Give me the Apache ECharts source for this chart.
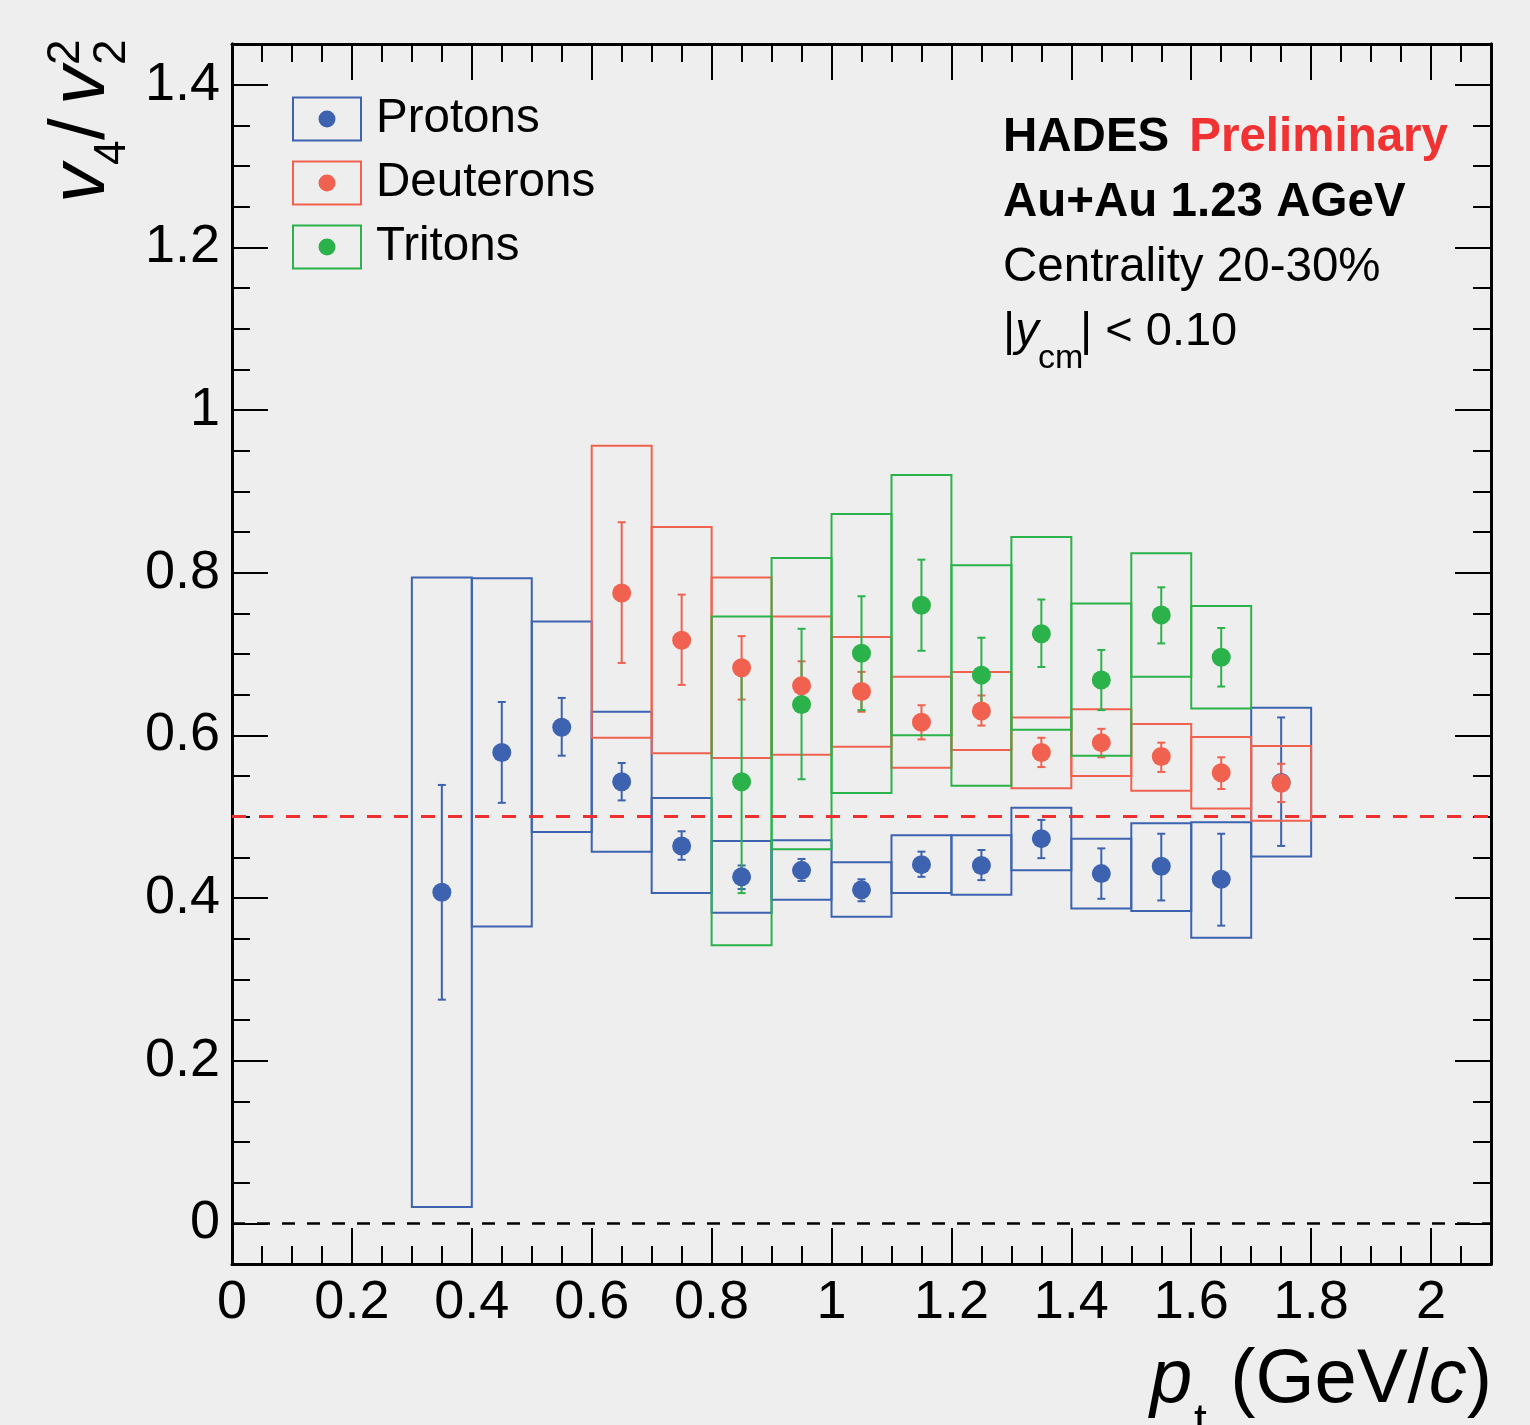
<!DOCTYPE html>
<html lang="en">
<head>
<meta charset="UTF-8">
<title>v4/v2^2 vs pt</title>
<script src="https://cdn.jsdelivr.net/npm/echarts@6/dist/echarts.min.js"></script>
<style>html,body{margin:0;padding:0;background:#eeeeee;}</style>
</head>
<body>
<div id="main" style="width:1530px;height:1425px;"></div>
<script>
// bin half width in pt (GeV/c)
var binHalf = 0.05;

// y axis labelled ticks
var yTickValues = [0, 0.2, 0.4, 0.6, 0.8, 1, 1.2, 1.4];

// protons
var protonPt     = [0.35, 0.45, 0.55, 0.65, 0.75, 0.85, 0.95, 1.05, 1.15, 1.25, 1.35, 1.45, 1.55, 1.65, 1.75];
var protonVal    = [0.407, 0.579, 0.610, 0.543, 0.464, 0.426, 0.434, 0.410, 0.441, 0.440, 0.473, 0.430, 0.439, 0.423, 0.542];
var protonStatLo = [0.275, 0.517, 0.575, 0.520, 0.447, 0.411, 0.421, 0.396, 0.426, 0.422, 0.449, 0.399, 0.397, 0.366, 0.464];
var protonStatHi = [0.539, 0.641, 0.646, 0.566, 0.482, 0.440, 0.448, 0.423, 0.457, 0.459, 0.496, 0.461, 0.479, 0.479, 0.622];
var protonSysLo  = [0.020, 0.365, 0.481, 0.457, 0.406, 0.382, 0.398, 0.377, 0.406, 0.404, 0.434, 0.387, 0.384, 0.351, 0.451];
var protonSysHi  = [0.794, 0.793, 0.740, 0.629, 0.523, 0.470, 0.471, 0.444, 0.477, 0.477, 0.511, 0.473, 0.492, 0.493, 0.634];

// deuterons
var deutPt     = [0.65, 0.75, 0.85, 0.95, 1.05, 1.15, 1.25, 1.35, 1.45, 1.55, 1.65, 1.75];
var deutVal    = [0.775, 0.717, 0.683, 0.661, 0.654, 0.616, 0.630, 0.579, 0.591, 0.574, 0.554, 0.541];
var deutStatLo = [0.689, 0.662, 0.644, 0.631, 0.629, 0.595, 0.612, 0.561, 0.573, 0.555, 0.534, 0.518];
var deutStatHi = [0.862, 0.773, 0.722, 0.691, 0.678, 0.637, 0.649, 0.597, 0.608, 0.591, 0.573, 0.565];
var deutSysLo  = [0.597, 0.578, 0.572, 0.576, 0.586, 0.560, 0.582, 0.535, 0.550, 0.532, 0.510, 0.495];
var deutSysHi  = [0.956, 0.856, 0.794, 0.746, 0.721, 0.672, 0.678, 0.622, 0.632, 0.614, 0.598, 0.587];

// tritons
var tritPt     = [0.85, 0.95, 1.05, 1.15, 1.25, 1.35, 1.45, 1.55, 1.65];
var tritVal    = [0.543, 0.638, 0.701, 0.760, 0.674, 0.725, 0.668, 0.748, 0.696];
var tritStatLo = [0.406, 0.546, 0.631, 0.704, 0.627, 0.684, 0.631, 0.713, 0.660];
var tritStatHi = [0.682, 0.731, 0.771, 0.816, 0.720, 0.767, 0.705, 0.782, 0.732];
var tritSysLo  = [0.342, 0.460, 0.529, 0.600, 0.538, 0.607, 0.575, 0.672, 0.633];
var tritSysHi  = [0.746, 0.818, 0.872, 0.920, 0.809, 0.844, 0.762, 0.824, 0.759];

var FONT = '"Liberation Sans", Arial, Helvetica, sans-serif';
var BLUE = '#3d63b0', RED = '#f0624f', GREEN = '#2bb24a';

function zip3(x, a, b) {
    var out = [];
    for (var i = 0; i < x.length; i++) out.push([x[i], a[i], b[i]]);
    return out;
}
function zip2(x, a) {
    var out = [];
    for (var i = 0; i < x.length; i++) out.push([x[i], a[i]]);
    return out;
}

// systematic box
function boxItem(color) {
    return function (params, api) {
        var p0 = api.coord([api.value(0) - binHalf, api.value(2)]);
        var p1 = api.coord([api.value(0) + binHalf, api.value(1)]);
        return {
            type: 'rect',
            shape: {x: p0[0], y: p0[1], width: p1[0] - p0[0], height: p1[1] - p0[1]},
            style: {fill: 'none', stroke: color, lineWidth: 2}
        };
    };
}
// statistical error bar with caps
function errItem(color) {
    return function (params, api) {
        var t = api.coord([api.value(0), api.value(2)]);
        var b = api.coord([api.value(0), api.value(1)]);
        var c = 4;
        var st = {stroke: color, lineWidth: 2};
        return {
            type: 'group',
            children: [
                {type: 'line', shape: {x1: t[0], y1: t[1], x2: b[0], y2: b[1]}, style: st},
                {type: 'line', shape: {x1: t[0] - c, y1: t[1], x2: t[0] + c, y2: t[1]}, style: st},
                {type: 'line', shape: {x1: b[0] - c, y1: b[1], x2: b[0] + c, y2: b[1]}, style: st}
            ]
        };
    };
}

function species(name, color, pt, val, sLo, sHi, yLo, yHi) {
    return [{
        name: name, type: 'custom', renderItem: boxItem(color),
        itemStyle: {color: color}, encode: {x: 0, y: [1, 2]},
        data: zip3(pt, yLo, yHi), silent: true
    }, {
        name: name, type: 'custom', renderItem: errItem(color),
        itemStyle: {color: color}, encode: {x: 0, y: [1, 2]},
        data: zip3(pt, sLo, sHi), silent: true
    }, {
        name: name, type: 'scatter', symbol: 'circle', symbolSize: 19,
        itemStyle: {color: color, opacity: 1},
        data: zip2(pt, val)
    }];
}

function tickLabel(v) {
    var k = Math.round(v / 0.2);
    return Math.abs(v - k * 0.2) < 1e-6 ? String(+v.toFixed(1)) : '';
}

var axisLine = {show: true, onZero: false, lineStyle: {color: '#000', width: 3}};
var labelStyle = {show: true, formatter: tickLabel, color: '#000', fontFamily: FONT, fontSize: 54, margin: 12};

// x: major every 0.2 with minor ticks every 0.05
function xAxisAt(pos, withLabels) {
    return {
        type: 'value', position: pos, min: 0, max: 2.1, interval: 0.2,
        axisLine: axisLine,
        axisTick: {show: true, inside: true, length: 36, lineStyle: {color: '#000', width: 2}},
        minorTick: {show: true, splitNumber: 4, length: 18, lineStyle: {color: '#000', width: 2}},
        splitLine: {show: false},
        axisLabel: withLabels ? labelStyle : {show: false}
    };
}
// y: short ticks every 0.05 (axis starts at -0.05)
function yMinorAxis(pos) {
    return {
        type: 'value', position: pos, min: -0.05, max: 1.45, interval: 0.05,
        axisLine: axisLine,
        axisTick: {show: true, inside: true, length: 18, lineStyle: {color: '#000', width: 2}},
        splitLine: {show: false},
        axisLabel: {show: false}
    };
}
// y: long ticks (and labels) at the labelled values
function yMajorAxis(pos, withLabels) {
    var lab = {show: false};
    if (withLabels) {
        lab = Object.assign({customValues: yTickValues}, labelStyle);
    }
    return {
        type: 'value', position: pos, min: -0.05, max: 1.45, interval: 0.05,
        axisLine: axisLine,
        axisTick: {show: true, inside: true, length: 36, customValues: yTickValues, lineStyle: {color: '#000', width: 2}},
        splitLine: {show: false},
        axisLabel: lab
    };
}

var legendIcon = 'path://M0,0L70,0L70,45L0,45Z M2,2L2,43L68,43L68,2Z M26.5,22.5a8.5,8.5 0 1,0 17,0a8.5,8.5 0 1,0 -17,0Z';

var series = []
    .concat(species('Protons', BLUE, protonPt, protonVal, protonStatLo, protonStatHi, protonSysLo, protonSysHi))
    .concat(species('Deuterons', RED, deutPt, deutVal, deutStatLo, deutStatHi, deutSysLo, deutSysHi))
    .concat(species('Tritons', GREEN, tritPt, tritVal, tritStatLo, tritStatHi, tritSysLo, tritSysHi));

// reference lines at 0.5 and 0
series[0].markLine = {
    silent: true, symbol: 'none', label: {show: false},
    data: [
        {yAxis: 0.5, lineStyle: {color: '#ee3030', width: 3, type: [14, 13]}},
        {yAxis: 0, lineStyle: {color: '#000', width: 2.5, type: [13, 12]}}
    ]
};

function txt(s, font, x, y) {
    return {type: 'text', x: x, y: y, silent: true,
        style: {text: s, font: font + ' ' + FONT, fill: '#000', verticalAlign: 'middle'}};
}

var chart = echarts.init(document.getElementById('main'));
var option = {
    animation: false,
    backgroundColor: '#eeeeee',
    grid: {left: 232, right: 39, top: 44, bottom: 161, containLabel: false, outerBoundsMode: 'none'},
    xAxis: [xAxisAt('bottom', true), xAxisAt('top', false)],
    yAxis: [yMajorAxis('left', true), yMinorAxis('left'), yMajorAxis('right', false), yMinorAxis('right')],
    legend: {
        left: 292, top: 95, orient: 'vertical', padding: 0,
        itemWidth: 70, itemHeight: 45, itemGap: 16,
        selectedMode: false,
        textStyle: {fontFamily: FONT, fontSize: 47.5, color: '#000', padding: [0, 0, 0, 9]},
        data: [
            {name: 'Protons', icon: legendIcon, itemStyle: {color: BLUE}},
            {name: 'Deuterons', icon: legendIcon, itemStyle: {color: RED}},
            {name: 'Tritons', icon: legendIcon, itemStyle: {color: GREEN}}
        ]
    },
    graphic: [
        // y axis title: v4 / v2^2, reads bottom to top
        {
            type: 'group', x: 109, y: 203, rotation: Math.PI / 2, silent: true,
            children: [
                txt('v', 'italic 78px', 0, -27),
                txt('4', '44px', 38, 4),
                txt('/', '78px', 63, -27),
                txt('v', 'italic 78px', 98, -27),
                txt('2', '46px', 138, 3),
                txt('2', '46px', 138, -43)
            ]
        },
        // x axis title: pt (GeV/c)
        txt('p', 'italic 76px', 1150, 1381),
        txt('t', '46px', 1194, 1423),
        {type: 'text', x: 1492, y: 1381, silent: true,
            style: {
                text: '{n|(GeV/}{i|c}{n|)}', align: 'right', verticalAlign: 'middle',
                rich: {
                    n: {font: '76px ' + FONT, fill: '#000'},
                    i: {font: 'italic 76px ' + FONT, fill: '#000'}
                }
            }},
        // info block
        {type: 'text', x: 1003, y: 138, silent: true,
            style: {
                text: '{b|HADES}{r|Preliminary}', verticalAlign: 'middle',
                rich: {
                    b: {font: 'bold 47.5px ' + FONT, fill: '#000'},
                    r: {font: 'bold 47.5px ' + FONT, fill: '#f03232', padding: [0, 0, 0, 20]}
                }
            }},
        txt('Au+Au 1.23 AGeV', 'bold 47.5px', 1003, 203),
        txt('Centrality 20-30%', '47.5px', 1003, 268),
        {type: 'text', x: 1003, y: 332, silent: true,
            style: {
                text: '{n||}{i|y}', verticalAlign: 'middle',
                rich: {
                    n: {font: '47px ' + FONT, fill: '#000'},
                    i: {font: 'italic 47px ' + FONT, fill: '#000'}
                }
            }},
        txt('cm', '34px', 1038, 359),
        txt('| < 0.10', '47px', 1080, 332)
    ],
    series: series
};
chart.setOption(option);
</script>
</body>
</html>
